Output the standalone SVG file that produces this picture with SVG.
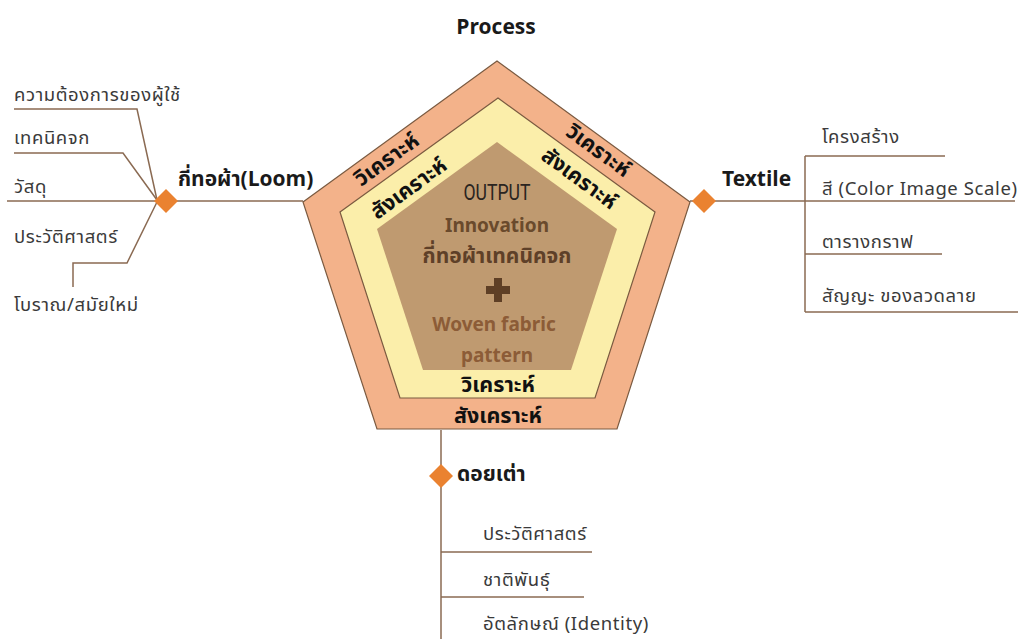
<svg xmlns="http://www.w3.org/2000/svg" width="1023" height="639" viewBox="0 0 1023 639">
<style>
.bg{fill:#ffffff}
.ln{stroke:#8a6a52;stroke-width:1.5;fill:none}
.dia{fill:#ea8230}
.pent{stroke:#7a5a40;stroke-width:1.2}
.t{font-family:"Noto Sans Thai","Noto Sans","DejaVu Sans",sans-serif;font-size:18.5px;letter-spacing:0.6px;fill:#3a3a3a}
.h{font-family:"Noto Sans Thai","Noto Sans","Liberation Sans",sans-serif;font-size:21px;font-weight:bold;fill:#1a1a1a}
.band{font-family:"Noto Sans Thai","Noto Sans","Liberation Sans",sans-serif;font-size:21.5px;font-weight:bold;fill:#111111;text-anchor:middle;dominant-baseline:central}
.c{text-anchor:middle;dominant-baseline:central}
</style>
<rect class="bg" width="1023" height="639"/>
<g id="connectors">
  <polyline class="ln" points="14,109 137,109 157,200"/>
  <polyline class="ln" points="14,153 123,153 157,200"/>
  <line class="ln" x1="7" y1="201" x2="303" y2="201"/>
  <polyline class="ln" points="157,202 127,263 73,263 73,287"/>
  <line class="ln" x1="690" y1="201" x2="1015" y2="201"/>
  <line class="ln" x1="805" y1="156" x2="805" y2="312"/>
  <line class="ln" x1="805" y1="156" x2="945" y2="156"/>
  <line class="ln" x1="805" y1="254" x2="942" y2="254"/>
  <line class="ln" x1="805" y1="312" x2="1018" y2="312"/>
  <line class="ln" x1="441" y1="430" x2="441" y2="639"/>
  <line class="ln" x1="441" y1="552" x2="592" y2="552"/>
  <line class="ln" x1="441" y1="597" x2="584" y2="597"/>
</g>
<g id="pentagon">
  <polygon class="pent" fill="#f3b28a" points="497,61 690,202 617,429 377,429 303,202"/>
  <polygon class="pent" fill="#fbeeaa" points="498,98 655,212 595,398 400,398 340,212"/>
  <polygon fill="#bf9a70" points="497,142 617,229 571,370 423,370 377,229"/>
  <text class="band" transform="translate(387,160) rotate(-36)">วิเคราะห์</text>
  <text class="band" transform="translate(409,189) rotate(-36)">สังเคราะห์</text>
  <text class="band" transform="translate(598,151) rotate(36)">วิเคราะห์</text>
  <text class="band" transform="translate(579,179) rotate(36)">สังเคราะห์</text>
  <text class="band" x="498" y="385" font-size="20.5">วิเคราะห์</text>
  <text class="band" x="498" y="416" font-size="20.5">สังเคราะห์</text>
</g>
<g id="output">
  <text class="c" x="497" y="192" font-family="Roboto,Liberation Sans,sans-serif" font-size="22" fill="#2a2420" textLength="67" lengthAdjust="spacingAndGlyphs">OUTPUT</text>
  <text class="c" x="497" y="225" font-family="Noto Sans,Liberation Sans,sans-serif" font-size="19" font-weight="bold" fill="#6a4a2c">Innovation</text>
  <text class="c" x="497" y="256" font-family="Noto Sans Thai,Noto Sans,sans-serif" font-size="21" font-weight="bold" fill="#5e4028">กี่ทอผ้าเทคนิคจก</text>
  <rect x="486" y="286" width="24" height="8" fill="#5e3f25"/>
  <rect x="494" y="278" width="8" height="24" fill="#5e3f25"/>
  <text class="c" x="494" y="324" font-family="Noto Sans,Liberation Sans,sans-serif" font-size="19" font-weight="bold" fill="#8c5c37">Woven fabric</text>
  <text class="c" x="497" y="355" font-family="Noto Sans,Liberation Sans,sans-serif" font-size="19" font-weight="bold" fill="#8c5c37">pattern</text>
</g>
<g id="process"><text class="h c" x="496" y="27" font-family="Roboto,Liberation Sans,sans-serif" font-size="20">Process</text></g>
<g id="loom">
  <polygon class="dia" points="166,189 178,201 166,213 154,201"/>
  <text class="h" x="178" y="186">กี่ทอผ้า(Loom)</text>
  <text class="t" x="14" y="101">ความต้องการของผู้ใช้</text>
  <text class="t" x="14" y="144">เทคนิคจก</text>
  <text class="t" x="14" y="193">วัสดุ</text>
  <text class="t" x="14" y="243">ประวัติศาสตร์</text>
  <text class="t" x="14" y="311">โบราณ/สมัยใหม่</text>
</g>
<g id="textile">
  <polygon class="dia" points="704,189 716,201 704,213 692,201"/>
  <text class="h" x="722" y="186">Textile</text>
  <text class="t" x="822" y="143">โครงสร้าง</text>
  <text class="t" x="822" y="195">สี (Color Image Scale)</text>
  <text class="t" x="822" y="248">ตารางกราฟ</text>
  <text class="t" x="822" y="302">สัญญะ ของลวดลาย</text>
</g>
<g id="doitao">
  <polygon class="dia" points="441,464 453,476 441,488 429,476"/>
  <text class="h" x="457" y="481">ดอยเต่า</text>
  <text class="t" x="483" y="540">ประวัติศาสตร์</text>
  <text class="t" x="483" y="586">ชาติพันธุ์</text>
  <text class="t" x="483" y="630">อัตลักษณ์ (Identity)</text>
</g>
</svg>
